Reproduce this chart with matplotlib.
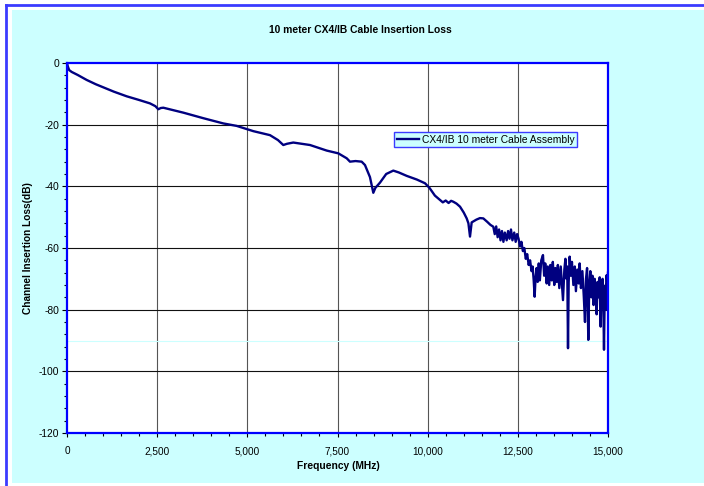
import matplotlib
matplotlib.use("Agg")
import matplotlib.pyplot as plt
from matplotlib.patches import Rectangle
from matplotlib.ticker import MultipleLocator, FuncFormatter

plt.rcParams['font.family'] = ['Liberation Sans', 'DejaVu Sans']
plt.rcParams['axes.unicode_minus'] = False

# smooth part of the sweep (MHz, dB)
freq_smooth = [0, 20, 60, 130, 300, 546, 800, 1006, 1300, 1655, 2000, 2301, 2450, 2532, 2600,
               2670, 3224, 3779, 4334, 4705, 5165, 5628, 5850, 5997, 6100, 6274, 6738, 7200,
               7522, 7755, 7846, 8000, 8170, 8262, 8400, 8493, 8550, 8678, 8850, 9047,
               9200, 9417, 9700, 9926, 10050, 10200, 10342, 10420, 10500, 10580, 10650,
               10712, 10800, 10897, 11000, 11082, 11130, 11174, 11220, 11350, 11450,
               11543, 11650, 11740]
loss_smooth = [0, -1.0, -2.3, -2.9, -3.9, -5.5, -6.9, -7.9, -9.3, -10.8, -12.0, -13.1, -14.0,
               -15.0, -14.6, -14.5, -16.1, -17.9, -19.6, -20.4, -22.1, -23.4, -25.0, -26.6,
               -26.2, -25.8, -26.6, -28.4, -29.3, -30.9, -32.0, -31.8, -32.0, -33.1, -37.0,
               -42.1, -40.5, -38.8, -36.0, -34.9, -35.5, -36.6, -37.8, -39.0, -40.5, -43.0,
               -44.4, -45.2, -44.6, -45.4, -44.7, -45.0, -45.6, -46.6, -48.5, -50.4, -52.0,
               -56.3, -51.7, -50.8, -50.3, -50.4, -51.5, -52.5]

# noisy upper end of the sweep
freq_noise = [11820, 11860, 11900, 11940, 11980, 12020, 12060, 12100, 12140, 12190, 12230,
              12270, 12310, 12350, 12400, 12440, 12480, 12520, 12560, 12600, 12640, 12680,
              12720, 12760, 12800, 12840, 12880, 12910, 12940, 12966, 12990, 13020, 13050,
              13080, 13110, 13150, 13197, 13230, 13260, 13300, 13330, 13370, 13400, 13440,
              13470, 13510, 13540, 13580, 13610, 13650, 13690, 13720, 13752, 13790, 13820,
              13850, 13870, 13891, 13910, 13937, 13970, 14000, 14040, 14080, 14110, 14150,
              14190, 14214, 14250, 14290, 14330, 14362, 14390, 14420, 14454, 14480, 14510,
              14540, 14570, 14600, 14630, 14660, 14685, 14710, 14740, 14770, 14796, 14820,
              14850, 14870, 14889, 14910, 14935, 14950, 14963, 14980, 14992, 15000]
loss_noise = [-53.1, -55.5, -53.0, -56.5, -54.0, -57.5, -54.5, -58.0, -55.0, -57.5, -54.5,
              -57.0, -54.0, -57.5, -55.0, -58.0, -55.5, -57.0, -59.5, -58.0, -61.0, -60.0,
              -63.5, -62.0, -65.5, -64.0, -67.5, -66.0, -70.5, -75.8, -70.0, -66.5, -71.0,
              -65.0, -70.5, -64.0, -62.3, -69.0, -65.0, -71.5, -66.0, -72.0, -65.5, -70.5,
              -64.5, -72.0, -66.5, -71.0, -65.5, -73.0, -66.0, -71.5, -76.9, -67.0, -63.5,
              -70.0, -66.0, -92.5, -71.0, -62.8, -69.0, -64.5, -72.0, -66.0, -74.0, -67.0,
              -71.5, -65.0, -73.0, -67.5, -76.0, -84.0, -70.0, -66.5, -89.8, -72.0, -67.5,
              -76.0, -69.0, -78.5, -70.0, -74.0, -81.5, -71.0, -76.0, -69.5, -85.5, -73.0,
              -70.0, -78.0, -93.0, -74.0, -72.0, -80.0, -68.8, -76.0, -79.0, -68.0]

freq = freq_smooth + freq_noise
loss = loss_smooth + loss_noise

x_ticks = [0, 2500, 5000, 7500, 10000, 12500, 15000]
y_ticks = [0, -20, -40, -60, -80, -100, -120]

fig = plt.figure(figsize=(7.04, 4.86), dpi=100)
fig.patch.set_facecolor('white')

# cyan chart area with blue frame on top/left
W, H = 704, 486
fig.patches.append(Rectangle((12 / W, 1 - 483 / H), (W - 12) / W, (483 - 10) / H,
                             transform=fig.transFigure, facecolor='#CCFFFF',
                             edgecolor='none', zorder=-2))
fig.lines.append(plt.Line2D([6 / W, 6 / W], [0, 1 - 5 / H], transform=fig.transFigure,
                            color='#3B3BFF', lw=2))
fig.lines.append(plt.Line2D([6 / W, 1], [1 - 5 / H, 1 - 5 / H], transform=fig.transFigure,
                            color='#3B3BFF', lw=2))

ax = fig.add_axes([67 / W, 1 - 433 / H, (608 - 67) / W, (433 - 63) / H])
ax.set_facecolor('white')

for xv in x_ticks[1:-1]:
    ax.axvline(xv, color='#555555', lw=0.8, zorder=1)
for yv in y_ticks[1:-1]:
    ax.axhline(yv, color='#111111', lw=0.8, zorder=1)
ax.axhline(-90, color='#CCFFFF', lw=0.8, zorder=1)

ax.plot(freq, loss, color='#000080', lw=1.7, zorder=3,
        label='CX4/IB 10 meter Cable Assembly')

ax.set_xlim(0, 15000)
ax.set_ylim(-120, 0)
ax.set_xticks(x_ticks)
ax.set_yticks(y_ticks)
ax.xaxis.set_minor_locator(MultipleLocator(500))
ax.yaxis.set_minor_locator(MultipleLocator(4))
ax.xaxis.set_major_formatter(FuncFormatter(lambda v, p: f'{int(v):,}'))

for s in ax.spines.values():
    s.set_color('#0000FF')
    s.set_linewidth(1.6)
    s.set_zorder(4)

ax.tick_params(axis='y', which='major', direction='out', length=3.6, width=0.8,
               color='black', labelsize=7.4, pad=2)
ax.tick_params(axis='y', which='minor', direction='out', length=2, width=0.8, color='black')
ax.tick_params(axis='x', which='major', direction='out', length=3, width=0.8,
               color='black', labelsize=7.2, pad=6.5)
ax.tick_params(axis='x', which='minor', direction='out', length=1.8, width=0.8, color='black')
for lab in ax.get_xticklabels():
    lab.set_family(['Liberation Sans Narrow', 'Liberation Sans'])

fig.text(360 / W, 1 - 30 / H, '10 meter CX4/IB Cable Insertion Loss', ha='center',
         va='center', fontsize=7.4, fontweight='bold')
fig.text(28 / W, 1 - 248 / H, 'Channel Insertion Loss(dB)', ha='center', va='center',
         rotation=90, fontsize=7.3, fontweight='bold')
fig.text(338 / W, 1 - 466 / H, 'Frequency (MHz)', ha='center', va='center',
         fontsize=7.4, fontweight='bold', family=['Liberation Sans Narrow', 'Liberation Sans'])

leg = ax.legend(loc='upper left', bbox_to_anchor=((394 - 67) / 541, (433 - 132) / 370),
                fontsize=7.4, frameon=True, fancybox=False, handlelength=2.2,
                handletextpad=0.3, borderpad=0.25, borderaxespad=0)
leg.get_frame().set_facecolor('#CCFFFF')
leg.get_frame().set_edgecolor('#3B3BFF')
leg.get_frame().set_linewidth(1.0)
leg.get_frame().set_alpha(1)

fig.savefig('out.png', dpi=100)
